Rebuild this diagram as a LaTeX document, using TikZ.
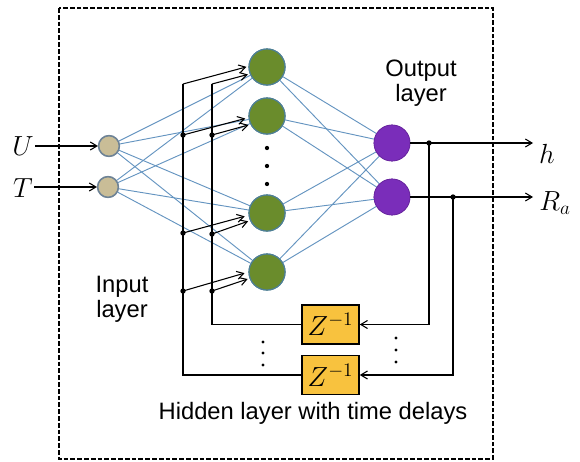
\documentclass[tikz,border=0pt]{standalone}
\usepackage{fontspec}
\setmainfont{Liberation Sans}
\usetikzlibrary{arrows.meta,calc}

\definecolor{inpfill}{HTML}{C9BD97}
\definecolor{inpline}{HTML}{6E8396}
\definecolor{hidfill}{HTML}{6A8C2C}
\definecolor{hidline}{HTML}{4E7F95}
\definecolor{outfill}{HTML}{7A2DBA}
\definecolor{linkblue}{HTML}{6494C0}
\definecolor{delayfill}{HTML}{F8C23E}

\begin{document}
\begin{tikzpicture}[x=0.75pt,y=-0.75pt,
  font=\fontsize{17.8}{19}\selectfont,
  mathlab/.style={font=\fontsize{19.5}{21}\selectfont},
  inpnode/.style={circle, draw=inpline, line width=1.1pt, fill=inpfill,
                  minimum size=15.5pt, inner sep=0pt},
  hidnode/.style={circle, draw=hidline, line width=0.9pt, fill=hidfill,
                  minimum size=27pt, inner sep=0pt},
  outnode/.style={circle, draw=outfill!85!black, line width=0.5pt, fill=outfill,
                  minimum size=27pt, inner sep=0pt},
  delaybox/.style={draw, line width=1.2pt, fill=delayfill,
                   minimum width=42.75pt, minimum height=29pt, inner sep=0pt,
                   font=\fontsize{21}{23}\selectfont},
  link/.style={draw=linkblue, line width=0.7pt},
  wire/.style={line width=0.8pt},
  arr/.style={wire, -{Straight Barb[length=5pt,width=6pt]}},
  jdot/.style={circle, fill=black, inner sep=0pt, minimum size=4pt},
  sdot/.style={circle, fill=black, inner sep=0pt, minimum size=2.6pt},
  txt/.style={align=center, inner sep=0pt}
]
\useasboundingbox (0,0) rectangle (580,461);

% outer frame
\draw[line width=1.4pt, dash pattern=on 3.6pt off 1.5pt] (59,8) rectangle (493,459);

% neurons
\node[inpnode] (i1) at (109,146) {};
\node[inpnode] (i2) at (108,187) {};
\node[hidnode] (h1) at (267,67) {};
\node[hidnode] (h2) at (267,116) {};
\node[hidnode] (h3) at (267,213) {};
\node[hidnode] (h4) at (267,272) {};
\node[outnode] (o1) at (392,143) {};
\node[outnode] (o2) at (392,197) {};

% weighted connections
\foreach \a in {i1,i2}
  \foreach \b in {h1,h2,h3,h4}
    \path[link] (\a) -- (\b);
\foreach \a in {h1,h2,h3,h4}
  \foreach \b in {o1,o2}
    \path[link] (\a) -- (\b);
% redraw neurons over the links
\node[inpnode] at (i1) {};
\node[inpnode] at (i2) {};
\foreach \b in {h1,h2,h3,h4} \node[hidnode] at (\b) {};
\node[outnode] at (o1) {};
\node[outnode] at (o2) {};

% hidden-layer ellipsis
\node[sdot, minimum size=3.2pt] (v1) at (267,148) {};
\node[sdot, minimum size=3.2pt] (v2) at (267,166) {};
\node[sdot, minimum size=3.2pt] (v3) at (267,184) {};

% inputs
\node[mathlab, inner sep=1pt] (U) at (23,146) {$U$};
\node[mathlab, inner sep=1pt] (T) at (23,188) {$T$};
\draw[arr] (U.east |- i1) -- (i1.west);
\draw[arr] (T.east |- i2) -- (i2.west);

% outputs
\coordinate (hend) at (533,143);
\coordinate (rend) at (533,197);
\draw[arr] (o1.east) -- (hend);
\draw[arr] (o2.east) -- (rend);
\node[mathlab] (hl) at (547,154) {$h$};
\node[mathlab] (rl) at (555,203) {$R_a$};

% delay units
\node[delaybox] (z1) at (330.5,324.5) {$Z^{-1}$};
\node[delaybox] (z2) at (330.5,375) {$Z^{-1}$};

% taps on the output lines feeding the delays
\node[jdot] (jh) at (429,143) {};
\node[jdot] (jr) at (453,197) {};
\draw[arr] (jh.center) |- (z1.east);
\draw[arr] (jr.center) |- (z2.east);

% delayed signals fed back to the hidden layer
\coordinate (itop) at (212,84);
\coordinate (otop) at (183,84);
\draw[wire] (z1.west) -| (itop);
\draw[wire] (z2.west) -| (otop);
\draw[arr, shorten >=1.5pt] (itop) -- (h1.202);
\draw[arr, shorten >=1.5pt] (otop) -- (h1.178);

\node[jdot] (a2) at (183,135) {};
\node[jdot] (b2) at (212,135) {};
\node[jdot] (a3) at (183,233) {};
\node[jdot] (b3) at (212,234) {};
\node[jdot] (a4) at (183,291) {};
\node[jdot] (b4) at (212,291) {};
\draw[arr, shorten >=2.5pt] (a2.center) -- (h2.185);
\draw[arr, shorten >=1.5pt] (b2.center) -- (h2.207);
\draw[arr, shorten >=3pt] (a3.center) -- (h3.187);
\draw[arr, shorten >=1.5pt] (b3.center) -- (h3.204);
\draw[arr, shorten >=3pt] (a4.center) -- (h4.180);
\draw[arr, shorten >=1.5pt] (b4.center) -- (h4.200);

% ellipses between the delay rows
\foreach \y [count=\k] in {342,353,365} \node[sdot, minimum size=2.4pt] (l\k) at (263,\y) {};
\foreach \y [count=\k] in {338,350,362} \node[sdot, minimum size=2.4pt] (r\k) at (396,\y) {};

% layer labels
\node[txt] (inlab) at (122,299) {Input\\layer};
\node[txt] (outlab) at (421,83) {Output\\layer};
\node[txt] (hidlab) at (313,413) {Hidden layer with time delays};
\end{tikzpicture}
\end{document}
